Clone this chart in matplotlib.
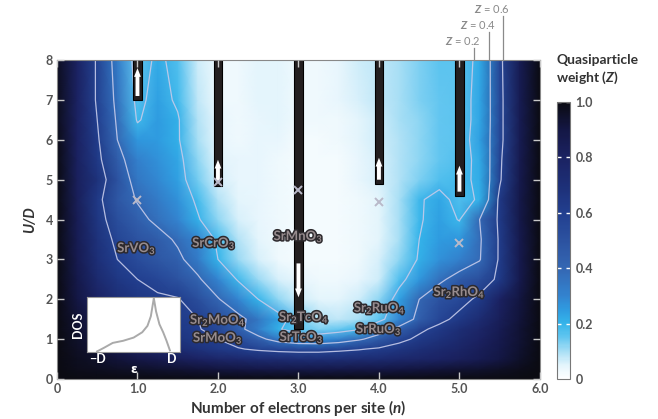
import numpy as np
import matplotlib
matplotlib.use("Agg")
import matplotlib.pyplot as plt
import matplotlib.patheffects as pe
from matplotlib.colors import LinearSegmentedColormap

plt.rcParams["font.family"] = ["Lato", "DejaVu Sans"]
plt.rcParams["mathtext.fontset"] = "custom"
plt.rcParams["mathtext.rm"] = "Lato:bold"
plt.rcParams["mathtext.it"] = "Lato:italic:bold"
plt.rcParams["mathtext.bf"] = "Lato:bold"
plt.rcParams["mathtext.default"] = "regular"

# grid of the quasiparticle weight
n_vals = [0, 0.25, 0.5, 0.75, 1.0, 1.25, 1.5, 1.75, 2.0, 2.25, 2.5, 2.75, 3.0,
          3.25, 3.5, 3.75, 4.0, 4.25, 4.5, 4.75, 5.0, 5.25, 5.5, 5.75, 6.0]
u_vals = [0, 0.25, 0.5, 0.75, 1.0, 1.25, 1.5, 2.0, 2.5, 3.0, 3.5, 4.0, 4.5, 5.0,
          5.5, 6.0, 6.5, 7.0, 8.0]

z_u00 = [1.0] * 25
z_u025 = [1.0, 0.98, 0.97, 0.96, 0.95, 0.94, 0.93, 0.92, 0.91, 0.9, 0.89, 0.88, 0.88,
          0.88, 0.88, 0.89, 0.89, 0.9, 0.91, 0.92, 0.93, 0.94, 0.96, 0.98, 1.0]
z_u05 = [1.0, 0.97, 0.95, 0.92, 0.89, 0.86, 0.83, 0.8, 0.77, 0.75, 0.73, 0.72, 0.71,
         0.71, 0.71, 0.72, 0.73, 0.75, 0.77, 0.79, 0.82, 0.85, 0.9, 0.95, 1.0]
z_u075 = [1.0, 0.96, 0.93, 0.88, 0.83, 0.78, 0.73, 0.68, 0.64, 0.61, 0.58, 0.56, 0.55,
          0.55, 0.57, 0.59, 0.62, 0.66, 0.7, 0.74, 0.78, 0.83, 0.88, 0.94, 1.0]
z_u10 = [1.0, 0.95, 0.91, 0.85, 0.78, 0.72, 0.67, 0.63, 0.6, 0.54, 0.44, 0.34, 0.28,
         0.27, 0.31, 0.38, 0.46, 0.56, 0.63, 0.68, 0.74, 0.8, 0.87, 0.93, 1.0]
z_u125 = [1.0, 0.94, 0.88, 0.81, 0.74, 0.68, 0.64, 0.61, 0.55, 0.44, 0.32, 0.21, 0.15,
          0.13, 0.15, 0.19, 0.33, 0.44, 0.57, 0.64, 0.71, 0.77, 0.85, 0.93, 1.0]
z_u15 = [1.0, 0.93, 0.86, 0.78, 0.71, 0.66, 0.62, 0.6, 0.53, 0.44, 0.34, 0.24, 0.15,
         0.09, 0.08, 0.1, 0.16, 0.3, 0.44, 0.56, 0.64, 0.72, 0.83, 0.92, 1.0]
z_u20 = [1.0, 0.9, 0.8, 0.71, 0.66, 0.62, 0.61, 0.52, 0.41, 0.3, 0.2, 0.12, 0.07,
         0.05, 0.05, 0.07, 0.12, 0.24, 0.4, 0.5, 0.55, 0.63, 0.8, 0.91, 1.0]
z_u25 = [1.0, 0.88, 0.74, 0.65, 0.6, 0.56, 0.5, 0.42, 0.3, 0.19, 0.11, 0.06, 0.04,
         0.03, 0.03, 0.04, 0.07, 0.17, 0.26, 0.37, 0.46, 0.52, 0.63, 0.87, 1.0]
z_u30 = [1.0, 0.86, 0.7, 0.6, 0.53, 0.48, 0.43, 0.33, 0.2, 0.11, 0.06, 0.03, 0.02,
         0.02, 0.02, 0.03, 0.06, 0.12, 0.21, 0.27, 0.31, 0.39, 0.62, 0.87, 1.0]
z_u35 = [1.0, 0.85, 0.68, 0.57, 0.5, 0.45, 0.38, 0.3, 0.18, 0.09, 0.05, 0.03, 0.02,
         0.02, 0.02, 0.03, 0.05, 0.1, 0.2, 0.25, 0.26, 0.38, 0.62, 0.87, 1.0]
z_u40 = [1.0, 0.84, 0.66, 0.52, 0.44, 0.37, 0.3, 0.21, 0.12, 0.06, 0.04, 0.03, 0.02,
         0.02, 0.02, 0.03, 0.05, 0.1, 0.19, 0.24, 0.195, 0.4, 0.63, 0.88, 1.0]
z_u45 = [1.0, 0.83, 0.64, 0.48, 0.39, 0.33, 0.27, 0.18, 0.09, 0.05, 0.04, 0.03, 0.02,
         0.02, 0.02, 0.03, 0.05, 0.1, 0.19, 0.23, 0.17, 0.21, 0.64, 0.88, 1.0]
z_u50 = [1.0, 0.82, 0.68, 0.5, 0.34, 0.29, 0.24, 0.14, 0.06, 0.04, 0.04, 0.03, 0.02,
         0.02, 0.02, 0.04, 0.06, 0.09, 0.13, 0.17, 0.18, 0.215, 0.58, 0.87, 1.0]
z_u55 = [1.0, 0.81, 0.64, 0.45, 0.31, 0.27, 0.23, 0.12, 0.05, 0.04, 0.04, 0.03, 0.02,
         0.02, 0.02, 0.04, 0.06, 0.09, 0.12, 0.15, 0.17, 0.22, 0.57, 0.86, 1.0]
z_u60 = [0.99, 0.8, 0.62, 0.40, 0.26, 0.25, 0.21, 0.1, 0.04, 0.03, 0.04, 0.04, 0.02,
         0.02, 0.03, 0.05, 0.07, 0.09, 0.12, 0.15, 0.16, 0.24, 0.55, 0.85, 1.0]
z_u65 = [0.98, 0.8, 0.6, 0.38, 0.19, 0.25, 0.21, 0.09, 0.04, 0.03, 0.04, 0.05, 0.03,
         0.03, 0.03, 0.05, 0.07, 0.1, 0.12, 0.15, 0.16, 0.23, 0.55, 0.85, 1.0]
z_u70 = [0.98, 0.8, 0.58, 0.36, 0.17, 0.24, 0.185, 0.08, 0.03, 0.03, 0.05, 0.05, 0.03,
         0.03, 0.04, 0.06, 0.08, 0.1, 0.13, 0.15, 0.16, 0.23, 0.55, 0.85, 1.0]
z_u80 = [0.97, 0.8, 0.58, 0.33, 0.15, 0.22, 0.17, 0.07, 0.03, 0.03, 0.05, 0.05, 0.03,
         0.03, 0.04, 0.07, 0.08, 0.1, 0.13, 0.16, 0.16, 0.22, 0.56, 0.85, 1.0]

z_table = np.array([z_u00, z_u025, z_u05, z_u075, z_u10, z_u125, z_u15, z_u20, z_u25,
                    z_u30, z_u35, z_u40, z_u45, z_u50, z_u55, z_u60, z_u65, z_u70, z_u80])
contour_levels = [0.2, 0.4, 0.6]

# Mott insulating bars (n, lower U) and the arrows inside them
bar_n = [1, 2, 3, 4, 5]
bar_bottom = [7.0, 4.85, 1.25, 4.9, 4.6]
arrow_tail = [7.1, 4.95, 2.9, 5.0, 4.7]
arrow_head = [7.8, 5.5, 2.05, 5.55, 5.35]

# crosses
cross_n = [1, 2, 3, 4, 5]
cross_u = [4.5, 4.95, 4.75, 4.45, 3.4]

# materials
mat_names = ["SrVO$_3$", "SrCrO$_3$", "SrMnO$_3$", "Sr$_2$MoO$_4$", "SrMoO$_3$",
             "Sr$_2$TcO$_4$", "SrTcO$_3$", "Sr$_2$RuO$_4$", "SrRuO$_3$", "Sr$_2$RhO$_4$"]
mat_n = [0.99, 1.95, 3.0, 2.0, 2.0, 3.07, 3.04, 4.01, 4.0, 5.0]
mat_u = [3.28, 3.41, 3.58, 1.48, 1.03, 1.55, 1.05, 1.78, 1.25, 2.18]

# inset density of states
dos_eps = [-1.0, -0.81, -0.58, -0.30, -0.02, 0.21, 0.35, 0.44, 0.52, 0.58, 0.67, 0.77, 0.86, 0.95]
dos_val = [0.0, 0.07, 0.16, 0.2, 0.26, 0.36, 0.48, 0.66, 1.0, 0.75, 0.51, 0.36, 0.2, 0.02]

z_marks = [0.2, 0.4, 0.6]
z_mark_n = [5.18, 5.37, 5.54]

cmap = LinearSegmentedColormap.from_list("qp", [
    (0.0, "#ffffff"), (0.05, "#e2f4fc"), (0.1, "#a6def5"), (0.15, "#62c6f0"),
    (0.2, "#34b4ea"), (0.25, "#2f9be0"), (0.3, "#3383cf"), (0.4, "#3467b3"),
    (0.5, "#2c52a0"), (0.6, "#223f8f"), (0.7, "#1d2f77"), (0.8, "#1b2262"),
    (0.9, "#141745"), (1.0, "#0b0b12")])

fig = plt.figure(figsize=(6.58, 4.19), dpi=100)
ax = fig.add_axes([0.0866, 0.0955, 0.734, 0.761])

N, U = np.meshgrid(n_vals, u_vals)
mesh = ax.pcolormesh(N, U, z_table, shading="gouraud", cmap=cmap, vmin=0, vmax=1, zorder=1)
ax.contour(N, U, z_table, levels=contour_levels, colors="#c6cbea", linewidths=0.9,
           alpha=0.9, zorder=1.5)

ax.bar(bar_n, [8 - b for b in bar_bottom], bottom=bar_bottom, width=0.11,
       color="#231f20", edgecolor="black", linewidth=0.8, zorder=2)
for x, t, h in zip(bar_n, arrow_tail, arrow_head):
    ax.annotate("", xy=(x, h), xytext=(x, t),
                arrowprops=dict(arrowstyle="simple,head_width=0.7,head_length=0.9,tail_width=0.4",
                                fc="white", ec="none", mutation_scale=7,
                                shrinkA=0, shrinkB=0), zorder=4)

ax.plot(cross_n, cross_u, linestyle="none", marker="x", ms=6, mew=1.4,
        color="#b9b9c9", zorder=4)

for name, x, y in zip(mat_names, mat_n, mat_u):
    ax.text(x, y, name, ha="center", va="center", fontsize=9.5, fontweight="bold",
            color="#978c8e", zorder=5,
            path_effects=[pe.withStroke(linewidth=2.2, foreground="#2d2a2e")])

# Z level marks on top
for z, x, k in zip(z_marks, z_mark_n, range(3)):
    top = 8.3 + 0.4 * k
    ax.plot([x, x], [8, top], color="#8a8a8a", lw=0.9, clip_on=False, zorder=5)
    ax.text(x + 0.08, top + 0.02, "$\\mathit{Z}$ = %.1f" % z, ha="right", va="bottom",
            fontsize=8, color="#8a8a8a", fontweight="normal")

ax.set_xlim(0, 6)
ax.set_ylim(0, 8)
ax.set_xticks(range(7))
ax.set_xticklabels(["0", "1.0", "2.0", "3.0", "4.0", "5.0", "6.0"])
ax.set_yticks(range(9))
ax.tick_params(direction="in", length=5, width=1, color="#c8c8c8", top=True, right=True,
               labelsize=9, labelcolor="#555555", pad=3)
for lab in ax.get_xticklabels() + ax.get_yticklabels():
    lab.set_fontweight("bold")
ax.set_axisbelow(False)
for sp in ax.spines.values():
    sp.set_color("#888888")
    sp.set_linewidth(0.8)
ax.set_xlabel("Number of electrons per site ($\\mathit{n}$)", fontsize=11,
              fontweight="bold", color="#333333", labelpad=2)
ax.set_ylabel("U/D", fontsize=10.5, fontweight="bold", fontstyle="italic",
              color="#333333", labelpad=6)

# colorbar
cax = fig.add_axes([0.8465, 0.0955, 0.0198, 0.661])
cb = fig.colorbar(mesh, cax=cax, ticks=[0, 0.2, 0.4, 0.6, 0.8, 1.0])
cb.set_ticklabels(["0", "0.2", "0.4", "0.6", "0.8", "1.0"])
cax.tick_params(direction="in", length=3, width=1, color="white", left=True, right=True,
                labelsize=9, labelcolor="#555555", pad=4)
for lab in cax.get_yticklabels():
    lab.set_fontweight("bold")
cb.outline.set_edgecolor("#777777")
cb.outline.set_linewidth(0.8)
fig.text(0.845, 0.87, "Quasiparticle\nweight ($\\mathit{Z}$)", ha="left", va="top",
         fontsize=10, fontweight="bold", color="#333333", linespacing=1.25)

# inset
iax = fig.add_axes([0.1322, 0.16, 0.1413, 0.131])
iax.plot(dos_eps, dos_val, color="#aaaaaa", lw=1.4)
iax.set_xlim(-1.27, 1.22)
iax.set_ylim(-0.01, 1.02)
iax.set_facecolor("white")
iax.set_xticks([-1, 1])
iax.set_xticklabels(["\u2212D", "D"])
iax.set_yticks([])
iax.tick_params(length=0, labelsize=9, labelcolor="white", pad=1)
for lab in iax.get_xticklabels():
    lab.set_fontweight("bold")
iax.set_xlabel("\u03b5", fontsize=9, fontweight="bold", color="white", labelpad=-2,
               family=["DejaVu Sans"])
iax.set_ylabel("DOS", fontsize=9, fontweight="bold", color="white", labelpad=2)
for sp in iax.spines.values():
    sp.set_color("#999999")
    sp.set_linewidth(0.8)

fig.savefig("out.png", dpi=100)
